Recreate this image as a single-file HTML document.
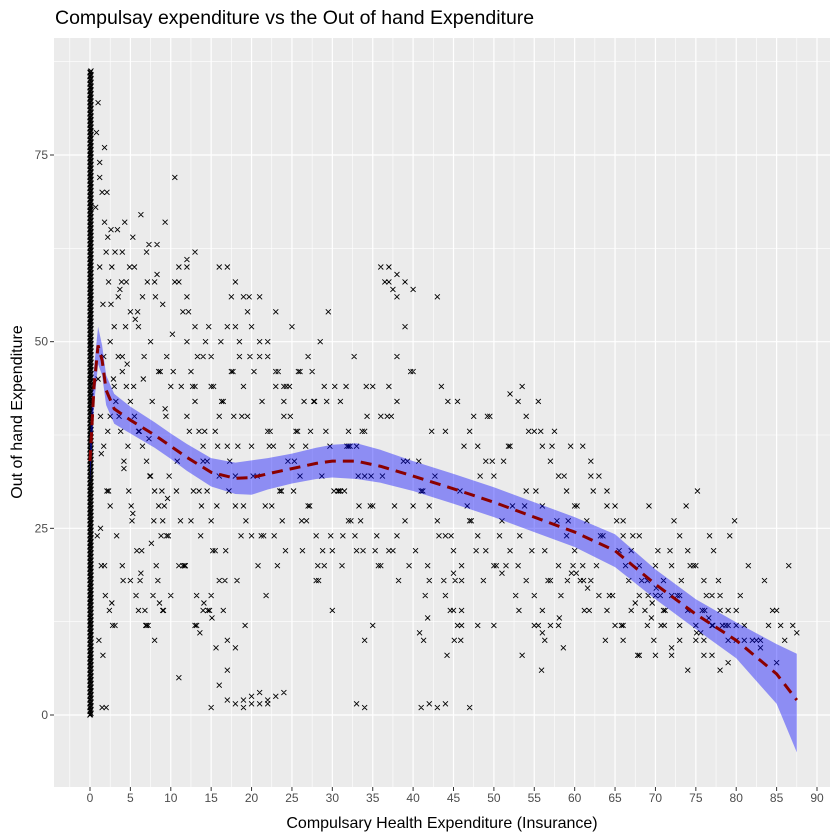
<!DOCTYPE html>
<html><head><meta charset="utf-8"><style>
body{margin:0;background:#fff;}
svg{display:block;font-family:"Liberation Sans",sans-serif;}
</style></head><body>
<svg id="chart" width="840" height="840" viewBox="0 0 840 840" xmlns="http://www.w3.org/2000/svg">
<text x="55" y="24" font-size="19.5" fill="#000">Compulsay expenditure vs the Out of hand Expenditure</text>
<rect x="54" y="38" width="776" height="749" fill="#EBEBEB"/>
<g id="grid"></g>
<g id="points"></g>
<g id="smooth"></g>
<g id="axes"></g>
<text x="442" y="828" font-size="16" text-anchor="middle">Compulsary Health Expenditure (Insurance)</text>
<text transform="translate(22,412) rotate(-90)" font-size="16" text-anchor="middle">Out of hand Expenditure</text>
</svg>
<script>
const xTicks=[0,5,10,15,20,25,30,35,40,45,50,55,60,65,70,75,80,85,90];
const yTicks=[0,25,50,75];
const colY=[0,0.5,1,1.5,2,2.5,3,3.5,4,4.5,5,5.5,6,6.5,7,7.5,8,8.5,9,9.5,10,10.5,11,11.5,12,12.5,13,13.5,14,14.5,15,15.5,16,16.5,17,17.5,18,18.5,19,19.5,20,20.5,21,21.5,22,22.5,23,23.5,24,24.5,25,25.5,26,26.5,27,27.5,28,28.5,29,29.5,30,30.5,31,31.5,32,32.5,33,33.5,34,34.5,35,35.5,36,36.5,37,37.5,38,38.5,39,39.5,40,40.5,41,41.5,42,42.5,43,43.5,44,44.5,45,45.5,46,46.5,47,47.5,48,48.5,49,49.5,50,50.5,51,51.5,52,52.5,53,53.5,54,54.5,55,55.5,56,56.5,57,57.5,58,58.5,59,59.5,60,60.5,61,61.5,62,62.5,63,63.5,64,64.5,65,65.5,66,66.5,67,67.5,68,68.5,69,69.5,70,70.5,71,71.5,72,72.5,73,73.5,74,74.5,75,75.5,76,76.5,77,77.5,78,78.5,79,79.5,80,80.5,81,81.5,82,82.5,83,83.5,84,84.5,85,85.5,86];
const ptX=[0.8,1,1.2,1.5,1.8,2,2.3,2.6,3,1,1.3,1.7,2.1,2.5,0.9,1.4,1.9,2.4,2.8,1.1,1.6,2.2,0.7,1.2,1.8,2.7,3.5,4,4.5,5,5.5,6,6.5,7,7.5,8,8.5,9,9.5,10,3.2,3.8,4.2,4.8,5.2,5.8,6.2,6.8,7.2,7.8,8.2,8.8,9.2,9.8,3.5,4.5,5.5,6.5,7.5,8.5,9.5,4,5,6,7,8,9,10,4,5,6,7,8,9,3.4,4.3,5.3,6.3,7.3,8.3,9.3,10.5,11,11.5,12,12.5,13,13.5,14,14.5,15,15.5,16,16.5,17,17.5,18,18.5,19,19.5,20,11,12,13,14,15,16,17,18,19,20,11.5,12.5,13.5,14.5,15.5,16.5,17.5,18.5,19.5,10.5,12,14,16,18,20,11,13,15,17,19,12,13,14,15,16,17,18,19,20,21,22,11,12,13,16,17,18,19,20,21,22,23,24,21,22,23,24,25,26,27,28,29,30,21.5,22.5,23.5,24.5,25.5,26.5,27.5,28.5,29.5,21,23,25,27,29,22,24,26,28,30,31,32,33,34,35,36,37,38,39,40,31,32,33,34,35,36,37,38,39,40,31.5,33.5,35.5,37.5,39.5,32,34,36,38,35,36,37,38,36.5,37.5,41,42,43,44,45,46,47,48,49,50,41,42,43,44,45,46,47,48,49,50,42,44,46,48,50,41.5,43.5,45.5,47.5,49.5,44,45,46,51,52,53,54,55,56,57,58,59,60,51,52,53,54,55,56,57,58,59,60,51.5,53.5,55.5,57.5,59.5,52,54,56,58,55,56,57,61,62,63,64,65,66,67,68,69,70,61,62,63,64,65,66,67,68,69,70,61.5,63.5,65.5,67.5,69.5,62,64,66,68,70,71,72,73,74,75,76,77,78,79,80,71,72,73,74,75,76,77,78,79,80,72,74,76,78,80,73,75,77,79,81,82,83,84,85,86,87,87.5,81,83,85,68,70,72,66,69,73,76,78,75,79,17,18,19,20,21,22,23,24,16,15,33,34,37,38,39,40,43,47,1.5,2,2.5,3,4];
const ptY=[78,82,74,70,66,62,58,55,52,45,40,36,30,28,24,20,16,14,12,10,8,64,68,72,76,60,56,62,58,54,60,52,56,62,50,58,46,55,48,44,42,38,34,30,26,22,18,14,12,16,20,24,28,32,48,44,40,36,32,28,24,20,18,14,12,10,14,16,46,42,38,34,30,26,65,66,64,67,63,63,66,72,58,54,50,46,42,38,34,30,26,22,18,14,10,56,52,48,44,40,36,60,56,52,48,44,40,36,32,28,24,20,26,30,34,38,42,46,50,54,58,40,36,32,28,24,20,44,48,52,56,60,12,14,16,18,2,1.5,1,2.5,3,1.5,5,61,62,60,60,58,56,52,50,48,46,44,48,50,44,40,36,32,28,24,20,22,24,28,30,34,38,42,46,50,54,56,54,52,48,44,38,42,46,18,14,30,26,22,10,12,40,44,48,52,46,42,38,36,32,28,20,22,24,26,28,30,26,24,22,20,36,38,40,42,44,60,58,56,58,57,1,1.5,1,1.5,14,12,38,36,34,32,30,28,26,24,22,20,26,24,22,20,18,16,14,12,12,16,44,42,40,40,38,19,18,19,43,42,40,38,36,34,32,30,28,26,22,20,18,16,14,18,20,24,22,20,44,42,38,36,36,30,28,12,12,11,12,36,34,32,30,28,24,22,20,18,16,20,18,16,14,12,10,14,16,18,20,26,24,22,15,13,32,28,26,24,20,18,20,16,14,12,10,8,6,10,12,14,16,24,22,20,18,16,14,12,10,8,6,18,16,14,12,10,12,14,12,10,10,12,14,10,12,11,10,9,7,8,8,9,12,12,10,8,14,12,7,6,9,2,1.5,1.5,2,2.5,3,4,1,1.5,1,60,59,58,57,56,1,1,1,40,44,48,42,38];
const ptX2=[1.2,1.4,1.6,1.8,2.1,2.3,2.5,2.7,2.9,3.1,3.3,3.6,3.9,4.1,4.4,4.7,4.9,5.1,5.4,5.7,5.9,6.1,6.4,6.7,6.9,7.1,7.4,7.7,7.9,8.1,8.4,8.7,8.9,9.1,9.4,9.7,1.3,1.7,2.2,2.6,3.1,3.7,4.2,4.6,5.3,5.6,6.3,6.6,7.3,7.6,8.3,8.6,9.3,9.6,10.2,10.8,11.3,11.7,12.2,12.8,13.3,13.7,14.2,14.8,15.3,15.7,16.2,16.8,17.3,17.7,18.2,18.8,19.3,19.7,20.2,20.8,21.3,21.7,22.2,22.8,23.3,23.7,24.2,24.8,10.3,11.2,12.3,13.2,14.3,15.2,16.3,17.2,18.3,19.2,20.3,21.2,22.3,23.2,24.3,10.7,11.8,12.7,13.8,14.7,15.8,16.7,17.8,18.7,19.8,20.7,21.8,22.7,23.8,24.7,25.2,25.8,26.3,26.7,27.2,27.8,28.3,28.7,29.2,29.8,30.3,30.7,31.2,31.8,32.3,32.7,33.2,33.8,34.3,34.7,25.3,26.2,27.3,28.2,29.3,30.2,31.3,32.2,33.3,34.2,35.3,36.2,37.3,38.2,39.3,25.7,26.8,27.7,28.8,29.7,30.8,31.7,32.8,33.7,34.8,35.7,36.8,37.7,38.8,39.7,40.3,41.2,42.3,43.2,44.3,45.2,46.3,47.2,48.3,49.2,50.3,51.2,52.3,53.2,54.3,55.2,56.3,57.2,58.3,59.2,40.7,41.8,42.7,43.8,44.7,45.8,46.7,47.8,48.7,49.8,50.7,51.8,52.7,53.8,54.7,55.8,56.7,57.8,58.7,59.8,60.3,61.2,62.3,63.2,64.3,65.2,66.3,67.2,68.3,69.2,70.3,71.2,72.3,73.2,74.3,75.2,76.3,77.2,78.3,79.2,60.7,61.8,62.7,63.8,64.7,65.8,66.7,67.8,68.7,69.8,70.7,71.8,72.7,73.8,74.7,75.8,76.7,77.8,78.7,79.8,80.5,81.5,82.5,83.5,84.5,85.5,86.5,44.2,44.6,45.1,45.5,45.9,53.1,53.5,55.5,55.9,56.3,58.1,58.6,59.1,59.6,60.2,61.1,61.6,69.1,69.6,70.1,70.6,71.1,75.1,75.6,76.1,76.6,77.1,40.8,41.3,41.8,13.2,13.6,14.1,14.6,15.1,15.6];
const ptY2=[60,35,55,20,70,30,50,15,45,62,24,40,58,18,52,36,60,28,44,16,54,38,22,48,12,58,32,42,26,56,18,46,30,14,40,24,25,48,38,65,12,57,33,47,27,53,19,45,37,23,59,15,41,29,51,34,44,20,54,30,48,24,38,14,44,28,50,22,34,46,18,40,26,56,32,20,42,28,36,24,46,30,22,40,46,26,38,16,50,22,42,30,36,12,46,24,38,20,44,30,20,44,28,52,36,18,40,24,48,32,16,36,26,44,30,46,22,36,28,42,18,32,38,24,44,30,20,36,26,48,32,22,40,28,34,26,38,20,42,30,24,36,28,44,22,32,40,18,34,38,26,42,22,36,30,44,24,38,32,20,40,28,34,46,22,30,38,24,42,18,36,26,32,40,20,34,28,24,38,30,22,36,16,26,34,20,32,18,24,30,28,22,18,34,24,36,16,28,22,38,18,26,32,20,28,14,30,24,16,26,20,24,18,28,22,14,26,18,20,30,16,22,12,24,18,14,20,10,16,12,18,8,14,10,12,22,16,28,20,14,24,18,12,26,16,20,10,18,14,12,20,8,14,10,12,10,14,8,12,6,10,13,9,18,19,19,18,17,16,15,17,16,12,11,11,14,13,12,11,10,13,12,11,15,14,13,9,8,7,6,7,12,11,12,14,13,12,15,14,13];

const smX=[0,0.5,1,1.5,2,3,5,8,10,12,15,18,20,22,25,28,30,33,36,40,45,50,55,60,65,70,75,80,85,87.5];
const smY=[34,44,49.5,47.5,43.5,41,39.5,37.5,36,34.5,32.5,31.7,31.8,32.3,33,33.7,34,34,33.3,32,30.3,28.5,26.5,24.5,22,17.5,13.5,10,5.5,2];
const smLo=[31,41.5,47,45.5,41.5,39,37.7,35.8,34.3,32.7,30.6,29.6,29.5,30.2,31,31.6,31.8,31.6,31.1,30,28.3,26.5,24.5,22.5,19.8,15.5,11.5,7.6,1.5,-5];
const smHi=[37,46.5,52,49.5,45.5,43,41.3,39.2,37.7,36.3,34.4,33.8,34.1,34.4,35,35.8,36.2,36.4,35.5,34,32.3,30.5,28.5,26.5,24.2,19.5,15.5,12.4,9.5,8.2];

const NS="http://www.w3.org/2000/svg";
const X0=54,X1=830,Y0=38,Y1=787;
const sx=v=>90+v*(817-90)/90;
const sy=v=>715-v*(715-155)/75;
function mk(tag,attrs,parent){const e=document.createElementNS(NS,tag);for(const k in attrs)e.setAttribute(k,attrs[k]);parent.appendChild(e);return e;}
const grid=document.getElementById('grid');
for(let i=0;i<xTicks.length+1;i++){const v=xTicks[0]-2.5+i*5;const x=sx(v);if(x<X0||x>X1)continue;
 const l=mk('line',{x1:x,x2:x,y1:Y0,y2:Y1,stroke:'#fff','stroke-width':0.6},grid);
 }
for(let i=0;i<=yTicks.length;i++){const v=-12.5+i*25;const y=sy(v);if(y<Y0||y>Y1)continue;
 const l=mk('line',{x1:X0,x2:X1,y1:y,y2:y,stroke:'#fff','stroke-width':0.6},grid);
 }
const axes=document.getElementById('axes');
xTicks.forEach(v=>{const x=sx(v);
 const l=mk('line',{x1:x,x2:x,y1:Y0,y2:Y1,stroke:'#fff','stroke-width':1.2},grid);
 
 const t=mk('line',{x1:x,x2:x,y1:Y1,y2:Y1+4,stroke:'#333','stroke-width':1},axes);
 
 const tx=mk('text',{x:x,y:Y1+15,'font-size':12,fill:'#4D4D4D','text-anchor':'middle'},axes);tx.textContent=v;
 });
yTicks.forEach(v=>{const y=sy(v);
 const l=mk('line',{x1:X0,x2:X1,y1:y,y2:y,stroke:'#fff','stroke-width':1.2},grid);
 
 const t=mk('line',{x1:X0-4,x2:X0,y1:y,y2:y,stroke:'#333','stroke-width':1},axes);
 
 const tx=mk('text',{x:X0-6,y:y+4,'font-size':12,fill:'#4D4D4D','text-anchor':'end'},axes);tx.textContent=v;
 });
const pts=document.getElementById('points');
let d='';const s=2.5;
function cross(x,y){d+=`M${x-s},${y-s}L${x+s},${y+s}M${x-s},${y+s}L${x+s},${y-s}`;}
colY.forEach(v=>{cross(sx(0),sy(v));cross(sx(0.12),sy(v+0.25));cross(sx(0.05),sy(v+0.12));});
ptX.forEach((v,i)=>{if(ptY[i]!==undefined)cross(sx(v),sy(ptY[i]));});
ptX2.forEach((v,i)=>{if(ptY2[i]!==undefined)cross(sx(v),sy(ptY2[i]));});
const pp=mk('path',{d:d,stroke:'#000','stroke-width':0.9,fill:'none'},pts);

const sm=document.getElementById('smooth');
let rd='M'+smX.map((v,i)=>sx(v)+','+sy(smHi[i])).join('L');
rd+='L'+smX.slice().reverse().map((v,j)=>{const i=smX.length-1-j;return sx(v)+','+sy(smLo[i]);}).join('L')+'Z';
const rb=mk('path',{d:rd,fill:'#0000FF','fill-opacity':0.4},sm);

const ln=mk('path',{d:'M'+smX.map((v,i)=>sx(v)+','+sy(smY[i])).join('L'),fill:'none',stroke:'#8B0000','stroke-width':3,'stroke-dasharray':'11,7'},sm);

</script>
</body></html>
